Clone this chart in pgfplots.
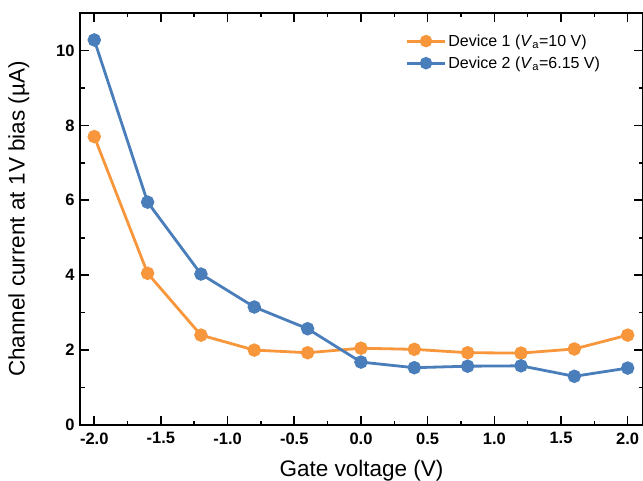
\documentclass[border=0pt]{standalone}
\usepackage{pgfplots}
\pgfplotsset{compat=1.18}
\usepackage{fontspec}
\setmainfont{Liberation Sans}
\definecolor{dev1}{HTML}{F7963A}
\definecolor{dev2}{HTML}{4A7EBB}
\begin{document}
\begin{tikzpicture}
\begin{axis}[
  name=main,
  scale only axis,
  width=563pt, height=412pt,
  xmin=-2.107, xmax=2.115,
  ymin=0, ymax=11,
  xtick={-2,-1.5,...,2},
  ytick={0,2,...,10},
  minor x tick num=1,
  minor y tick num=1,
  tick pos=both,
  tick align=inside,
  major tick length=9pt,
  minor tick length=4.5pt,
  axis line style={line width=1.6pt},
  every tick/.style={line width=1.6pt, black},
  /pgf/number format/assume math mode=true,
  /pgf/number format/fixed,
  /pgf/number format/fixed zerofill,
  xticklabel style={/pgf/number format/precision=1, font=\fontsize{16.5}{19}\selectfont\bfseries, yshift=-4pt},
  yticklabel style={/pgf/number format/precision=0, /pgf/number format/fixed zerofill=false, font=\fontsize{16.5}{19}\selectfont\bfseries, xshift=-2pt},
  xlabel={Gate voltage (V)},
  ylabel={Channel current at 1V bias (µA)},
  label style={font=\fontsize{22.5}{26}\selectfont},
  xlabel style={yshift=-9pt},
  ylabel style={yshift=20pt},
  legend style={draw=none, fill=none, inner sep=0pt, at={(0.578,0.953)}, anchor=north west,
    font=\fontsize{16}{19}\selectfont, row sep=5pt},
  legend cell align=left,
  legend image code/.code={\draw[mark repeat=2, mark phase=2, #1, mark size=4.8pt]
    plot coordinates {(0pt,0pt) (19pt,0pt) (38pt,0pt)};},
]
\addplot[color=dev1, line width=2.8pt, mark=*, mark size=5.3pt] coordinates {
  (-2.0,7.70) (-1.6,4.05) (-1.2,2.40) (-0.8,2.00) (-0.4,1.93) (0.0,2.05)
  (0.4,2.02) (0.8,1.93) (1.2,1.92) (1.6,2.03) (2.0,2.40)
};
\addlegendentry{Device 1 (\textit{V}\textsubscript{a}=10 V)}
\addplot[color=dev2, line width=2.8pt, mark=*, mark size=5.3pt] coordinates {
  (-2.0,10.28) (-1.6,5.95) (-1.2,4.03) (-0.8,3.15) (-0.4,2.57) (0.0,1.68)
  (0.4,1.53) (0.8,1.57) (1.2,1.58) (1.6,1.30) (2.0,1.52)
};
\addlegendentry{Device 2 (\textit{V}\textsubscript{a}=6.15 V)}
\end{axis}
\pgfresetboundingbox
\path ([xshift=-80pt,yshift=-55pt]main.south west) rectangle ([xshift=0pt,yshift=13pt]main.north east);
\end{tikzpicture}
\end{document}
